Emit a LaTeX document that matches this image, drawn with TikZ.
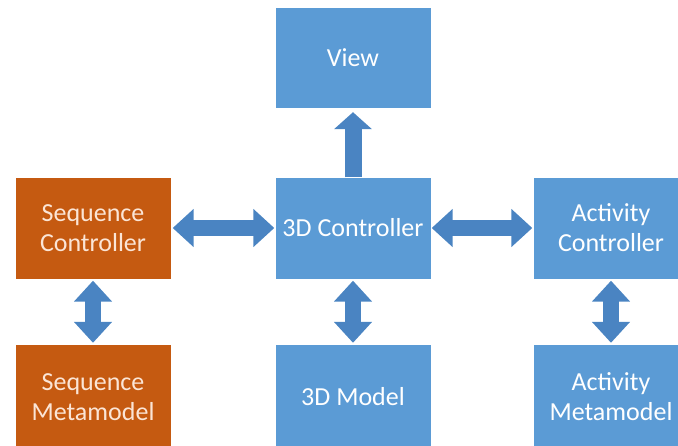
\documentclass[tikz,border=0pt]{standalone}
\usepackage{fontspec}
\setmainfont{Carlito}
\usetikzlibrary{arrows.meta}
\definecolor{boxblue}{HTML}{5B9BD5}
\definecolor{arrowblue}{HTML}{4A84C2}
\definecolor{boxorange}{HTML}{C55A11}
\definecolor{peach}{HTML}{FBE5D6}
\tikzset{
  block/.style={rectangle, fill=boxblue, text=white, minimum width=155pt,
    align=center, inner sep=0pt, font=\fontsize{26}{30}\selectfont},
  orangeblock/.style={block, fill=boxorange, text=peach},
  twoway/.style={arrowblue, line width=16pt,
    {Triangle[width=37pt,length=21pt]}-{Triangle[width=37pt,length=21pt]}},
  oneway/.style={arrowblue, line width=17pt, -{Triangle[width=37pt,length=17pt]}}
}
\begin{document}
\begin{tikzpicture}[x=1pt, y=-1pt]
  \useasboundingbox (0,0) rectangle (678,445);
  \begin{scope}
    \clip (0,0) rectangle (678,445);
    % top row
    \node[block, minimum height=100pt] (view) at (353,58) {View};
    % middle row
    \node[orangeblock, minimum height=101pt] (seqc) at (93,228) {Sequence\\Controller};
    \node[block, minimum height=101pt] (ctrl) at (353,228) {3D Controller};
    \node[block, minimum height=101pt] (actc) at (611,228) {Activity\\Controller};
    % bottom row
    \node[orangeblock, minimum height=104pt] (seqm) at (93,397) {Sequence\\Metamodel};
    \node[block, minimum height=104pt] (model) at (353,397) {3D Model};
    \node[block, minimum height=104pt] (actm) at (611,397) {Activity\\Metamodel};
  \end{scope}
  % connectors
  \draw[oneway, shorten >=4pt] (ctrl.north) -- (view.south);
  \draw[twoway, shorten <=2pt, shorten >=1pt] (seqc.east) -- (ctrl.west);
  \draw[twoway, shorten <=1pt, shorten >=1pt] (ctrl.east) -- (actc.west);
  \draw[twoway, shorten <=2pt, shorten >=2pt] (seqc.south) -- (seqm.north);
  \draw[twoway, shorten <=2pt, shorten >=2pt] (ctrl.south) -- (model.north);
  \draw[twoway, shorten <=2pt, shorten >=2pt] (actc.south) -- (actm.north);
\end{tikzpicture}
\end{document}
